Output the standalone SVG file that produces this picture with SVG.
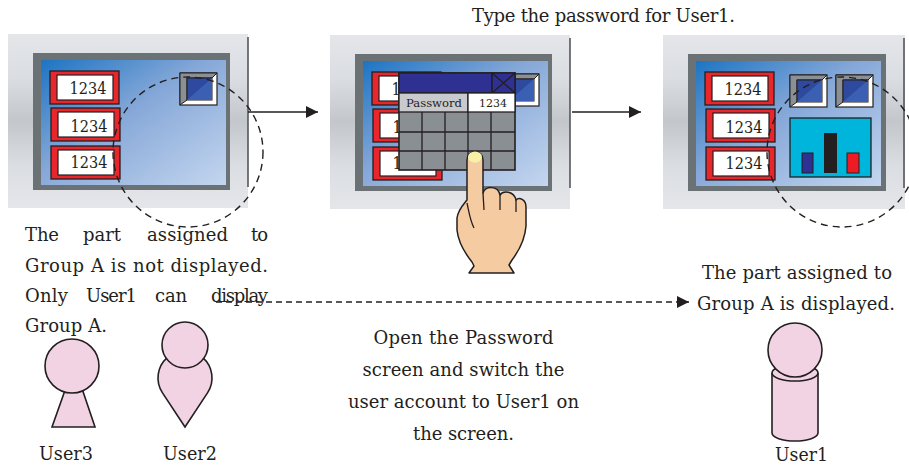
<svg xmlns="http://www.w3.org/2000/svg" width="909" height="466" viewBox="0 0 909 466">
  <style>
    .panel { fill: url(#panelGrad); }
    .edge { stroke: #4a4c50; stroke-width: 1.5; }
    .bezel { fill: #6b7276; }
    .lcd { fill: url(#lcdGrad); }
    .ln { stroke: #231f20; stroke-width: 1.3; fill: none; }
    .num { font-family: "DejaVu Serif", "Liberation Serif", serif; font-size: 16.5px; fill: #231f20; text-anchor: middle; }
    .small { font-family: "DejaVu Serif", "Liberation Serif", serif; font-size: 11px; fill: #231f20; text-anchor: middle; }
    .cap { font-family: "DejaVu Serif", "Liberation Serif", serif; font-size: 18px; fill: #231f20; }
    .mid { text-anchor: middle; }
    .person { fill: #f2d3e3; stroke: #231f20; stroke-width: 1.6; }
    .conn { stroke: #231f20; stroke-width: 1.4; fill: none; }
    .dash { stroke: #231f20; stroke-width: 1.3; fill: none; stroke-dasharray: 6 4; }
    .ring { stroke: #231f20; stroke-width: 1.4; fill: none; stroke-dasharray: 7 5; }
  </style>
  <defs>
    <linearGradient id="panelGrad" x1="0" y1="0" x2="0" y2="1">
      <stop offset="0" stop-color="#e4e6ea"/>
      <stop offset="0.25" stop-color="#dadde1"/>
      <stop offset="0.5" stop-color="#c3c6cb"/>
      <stop offset="0.75" stop-color="#dadde1"/>
      <stop offset="1" stop-color="#e4e6ea"/>
    </linearGradient>
    <linearGradient id="lcdGrad" x1="0" y1="0" x2="1" y2="1">
      <stop offset="0" stop-color="#1d74c3"/>
      <stop offset="0.45" stop-color="#86a8d8"/>
      <stop offset="1" stop-color="#c4d6ef"/>
    </linearGradient>
    <marker id="arrow" viewBox="0 0 12 12" refX="12" refY="6" markerWidth="12" markerHeight="12" markerUnits="userSpaceOnUse" orient="auto">
      <path d="M0,0 L12,6 L0,12 Z" fill="#231f20"/>
    </marker>
    <!-- numeric display field: red frame with white value area -->
    <g id="field">
      <rect x="0" y="0" width="69" height="33" fill="#e8262c" stroke="#231f20" stroke-width="1.3"/>
      <rect x="7" y="4" width="56" height="25" fill="#ffffff" stroke="#231f20" stroke-width="1.2"/>
    </g>
    <!-- bevelled switch button -->
    <g id="button">
      <rect x="0" y="0" width="37" height="32" fill="#ffffff" stroke="#231f20" stroke-width="1.2"/>
      <polygon points="0,0 37,0 32,5 7,5 7,27 0,32" fill="#8b9095" stroke="#231f20" stroke-width="1"/>
      <rect x="7" y="5" width="25" height="22" fill="#2d4a9f" stroke="#231f20" stroke-width="1"/>
      <polygon points="7,27 32,5 32,27" fill="#3a5fb3"/>
    </g>
  </defs>

  <!-- screen 1: initial state -->
  <g id="screen1">
    <rect class="panel" x="8" y="34" width="240" height="174"/>
    <line class="edge" x1="248" y1="37" x2="248" y2="187"/>
    <rect class="bezel" x="33" y="53" width="197" height="137"/>
    <rect class="lcd" x="41" y="60" width="185" height="125"/>
    <use href="#field" x="50" y="71"/>
    <use href="#field" x="51" y="108"/>
    <use href="#field" x="51" y="146"/>
    <text class="num" x="88" y="94" textLength="37" lengthAdjust="spacingAndGlyphs">1234</text>
    <text class="num" x="89" y="132" textLength="37" lengthAdjust="spacingAndGlyphs">1234</text>
    <text class="num" x="89" y="168" textLength="37" lengthAdjust="spacingAndGlyphs">1234</text>
    <use href="#button" x="180" y="73"/>
  </g>

  <!-- screen 2: password entry -->
  <g id="screen2" transform="translate(322,1)">
    <rect class="panel" x="8" y="34" width="240" height="174"/>
    <line class="edge" x1="248" y1="37" x2="248" y2="187"/>
    <rect class="bezel" x="33" y="53" width="197" height="137"/>
    <rect class="lcd" x="41" y="60" width="185" height="125"/>
    <use href="#field" x="50" y="71"/>
    <use href="#field" x="51" y="108"/>
    <use href="#field" x="51" y="146"/>
    <text class="num" x="88" y="94" textLength="37" lengthAdjust="spacingAndGlyphs">1234</text>
    <text class="num" x="89" y="132" textLength="37" lengthAdjust="spacingAndGlyphs">1234</text>
    <text class="num" x="89" y="168" textLength="37" lengthAdjust="spacingAndGlyphs">1234</text>
    <use href="#button" x="180" y="73"/>
    <g id="password-dialog">
      <rect x="77" y="72" width="116" height="97" fill="#8a8f94" stroke="#231f20" stroke-width="1.6"/>
      <rect x="77" y="72" width="93" height="20" fill="#2e3192" stroke="#231f20" stroke-width="1.4"/>
      <rect x="170" y="72" width="23" height="20" fill="#2e3192" stroke="#231f20" stroke-width="1.4"/>
      <path class="ln" d="M170,72 L193,92 M193,72 L170,92"/>
      <rect x="77" y="92" width="69" height="19" fill="#c9cacd" stroke="#231f20" stroke-width="1.3"/>
      <rect x="146" y="92" width="47" height="19" fill="#ffffff" stroke="#231f20" stroke-width="1.3"/>
      <path class="ln" d="M77,131 H193 M77,150 H193 M100,111 V169 M123,111 V169 M146,111 V169 M169,111 V169"/>
      <text class="small" x="112" y="106" textLength="56" lengthAdjust="spacingAndGlyphs">Password</text>
      <text class="small" x="171" y="106" textLength="28" lengthAdjust="spacingAndGlyphs">1234</text>
    </g>
  </g>

  <!-- finger touching the keypad -->
  <g id="hand">
    <path d="M467,200 L467,160 C467,149 483,149 483,160 L483,193 C485,186 498,185 500,195 C503,190 514,191 516,200 C519,197 526,199 526,207 L526,226 C525,240 518,252 512,260 L509,265 L514,273 L469,273 L474,266 L472,262 C464,252 458,240 457,230 L457,218 C458,210 463,205 467,200 Z" fill="#f5cba2" stroke="#231f20" stroke-width="1.5" stroke-linejoin="round"/>
    <ellipse cx="475" cy="157" rx="7" ry="5.5" fill="#f7f1a8"/>
    <path class="ln" d="M483,193 L484,210 M500,195 L500,210 M516,200 L516,212 M467,203 C469,212 470,220 474,228"/>
  </g>

  <!-- screen 3: Group A parts shown -->
  <g id="screen3" transform="translate(655,1)">
    <rect class="panel" x="8" y="34" width="242" height="174"/>
    <line class="edge" x1="249" y1="37" x2="249" y2="187"/>
    <rect class="bezel" x="33" y="53" width="198" height="137"/>
    <rect class="lcd" x="41" y="60" width="185" height="125"/>
    <use href="#field" x="50" y="71"/>
    <use href="#field" x="51" y="108"/>
    <use href="#field" x="51" y="146"/>
    <text class="num" x="88" y="94" textLength="37" lengthAdjust="spacingAndGlyphs">1234</text>
    <text class="num" x="89" y="132" textLength="37" lengthAdjust="spacingAndGlyphs">1234</text>
    <text class="num" x="89" y="168" textLength="37" lengthAdjust="spacingAndGlyphs">1234</text>
    <use href="#button" x="135" y="74"/>
    <use href="#button" x="181" y="74"/>
    <g id="bar-chart">
      <rect x="135" y="117" width="81" height="59" fill="#00b5dc" stroke="#231f20" stroke-width="1.3"/>
      <rect x="147" y="152" width="11" height="20" fill="#2e3192" stroke="#231f20" stroke-width="1"/>
      <rect x="169" y="132" width="13" height="40" fill="#231f20"/>
      <rect x="192" y="152" width="12" height="20" fill="#ed1c24" stroke="#231f20" stroke-width="1"/>
    </g>
  </g>

  <!-- dashed rings marking the Group A area -->
  <g id="group-a-rings">
    <circle class="ring" cx="188" cy="152" r="75"/>
    <circle class="ring" cx="842" cy="152" r="75"/>
  </g>

  <!-- connectors -->
  <g id="connectors">
    <line class="conn" x1="248" y1="112" x2="318" y2="112" marker-end="url(#arrow)"/>
    <line class="conn" x1="572" y1="112" x2="641" y2="112" marker-end="url(#arrow)"/>
    <line class="dash" x1="216" y1="302" x2="689" y2="302" marker-end="url(#arrow)"/>
  </g>

  <!-- users -->
  <g id="user3">
    <polygon class="person" points="74,365 52,427 95,427"/>
    <circle class="person" cx="72" cy="366" r="27"/>
    <text class="cap" x="39" y="460" textLength="54" lengthAdjust="spacingAndGlyphs">User3</text>
  </g>
  <g id="user2">
    <path class="person" d="M185,427 L162.5,392.9 A27,27 0 1 1 207.5,392.9 Z"/>
    <circle class="person" cx="185" cy="345" r="23"/>
    <text class="cap" x="163" y="460" textLength="54" lengthAdjust="spacingAndGlyphs">User2</text>
  </g>
  <g id="user1">
    <path class="person" d="M772,373 L772,433 A23,8 0 0 0 818,433 L818,373"/>
    <ellipse class="person" cx="795" cy="373" rx="23" ry="8"/>
    <circle class="person" cx="795" cy="350" r="27"/>
    <text class="cap" x="775" y="461" textLength="53" lengthAdjust="spacingAndGlyphs">User1</text>
  </g>

  <!-- captions -->
  <g id="captions">
    <text class="cap" x="472" y="22" textLength="263">Type the password for User1.</text>

    <text class="cap" x="25" y="241" textLength="34">The</text>
    <text class="cap" x="83" y="241" textLength="38">part</text>
    <text class="cap" x="147" y="241" textLength="81">assigned</text>
    <text class="cap" x="251" y="241" textLength="17">to</text>
    <text class="cap" x="25" y="272" textLength="243">Group A is not displayed.</text>
    <text class="cap" x="25" y="302" textLength="43">Only</text>
    <text class="cap" x="86" y="302" textLength="51">User1</text>
    <text class="cap" x="155" y="302" textLength="32">can</text>
    <text class="cap" x="211" y="302" textLength="57">display</text>
    <text class="cap" x="25" y="332" textLength="82">Group A.</text>

    <text class="cap mid" x="463.5" y="344" textLength="180">Open the Password</text>
    <text class="cap mid" x="463.5" y="376" textLength="202">screen and switch the</text>
    <text class="cap mid" x="463.5" y="408" textLength="231">user account to User1 on</text>
    <text class="cap mid" x="463.5" y="440" textLength="101">the screen.</text>

    <text class="cap" x="702" y="279" textLength="190">The part assigned to</text>
    <text class="cap" x="697" y="310" textLength="198">Group A is displayed.</text>
  </g>
</svg>
